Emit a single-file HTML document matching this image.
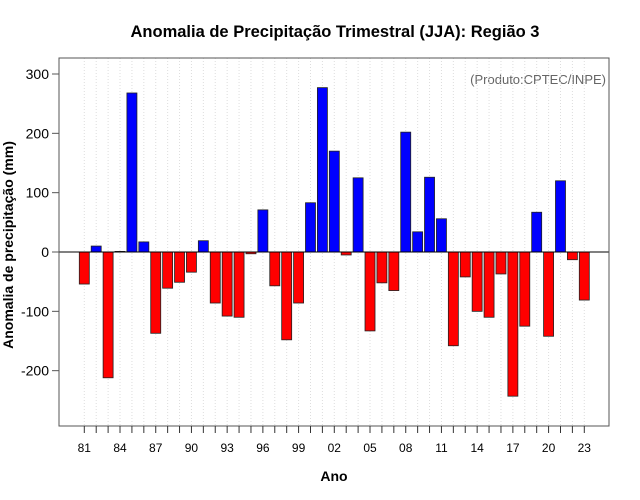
<!DOCTYPE html>
<html><head><meta charset="utf-8"><style>
body{margin:0;background:#fff;}
svg{display:block;font-family:"Liberation Sans",sans-serif;}
</style></head><body>
<svg id="chart" width="640" height="500" viewBox="0 0 640 500">
<rect x="0" y="0" width="640" height="500" fill="#fff"/>
<text x="335" y="37" text-anchor="middle" font-size="16.5" font-weight="bold">Anomalia de Precipitação Trimestral (JJA): Região 3</text>
<text x="606" y="84" text-anchor="end" font-size="13" fill="#666">(Produto:CPTEC/INPE)</text>
<text x="334" y="481" text-anchor="middle" font-size="14" font-weight="bold">Ano</text>
<text transform="translate(13,245) rotate(-90)" text-anchor="middle" font-size="14" font-weight="bold">Anomalia de precipitação (mm)</text>
<g id="grid"></g>
<g id="bars"></g>
<g id="axes"></g>
</svg>
<script>
const years = [81,82,83,84,85,86,87,88,89,90,91,92,93,94,95,96,97,98,99,0,1,2,3,4,5,6,7,8,9,10,11,12,13,14,15,16,17,18,19,20,21,22,23];
const anomalies = [-54,10,-212,1,268,17,-137,-61,-51,-34,19,-86,-108,-110,-3,71,-57,-148,-86,83,277,170,-5,125,-133,-52,-65,202,34,126,56,-158,-42,-100,-110,-37,-243,-125,67,-142,120,-13,-81];
const yTicks = [-200,-100,0,100,200,300];
const xLabelEvery = 3;

const NS='http://www.w3.org/2000/svg';
const L=59,R=609,T=58,B=426;
const x0=84.3, dx=(584.3-84.3)/(years.length-1);
function xs(i){return x0+i*dx;}
function ys(v){return 252 - v*(178/300);}
function mk(tag,attrs,parent){const e=document.createElementNS(NS,tag);for(const k in attrs)e.setAttribute(k,attrs[k]);parent.appendChild(e);return e;}
const grid=document.getElementById('grid'),bars=document.getElementById('bars'),axes=document.getElementById('axes');

years.forEach((y,i)=>{
  const g=mk('line',{x1:xs(i),x2:xs(i),y1:T,y2:B,stroke:'#ddd','stroke-dasharray':'1,2'},grid);
  
  
});
anomalies.forEach((v,i)=>{
  const y1=ys(Math.max(v,0)),y2=ys(Math.min(v,0));
  const r=mk('rect',{x:xs(i)-5,y:y1,width:10,height:Math.max(y2-y1,0.5),fill:v>=0?'#0000ff':'#ff0000',stroke:'#222','stroke-width':0.8},bars);
  
  
});
const zl=mk('line',{x1:L,x2:R,y1:ys(0),y2:ys(0),stroke:'#000','stroke-width':1},axes);


const box=mk('rect',{x:L,y:T,width:R-L,height:B-T,fill:'none',stroke:'#555','stroke-width':1},axes);


yTicks.forEach(t=>{
  const tk=mk('line',{x1:L-7,x2:L,y1:ys(t),y2:ys(t),stroke:'#555'},axes);
  
  
  const tx=mk('text',{x:L-10,y:ys(t)+5,'text-anchor':'end','font-size':14},axes);
  tx.textContent=t;
  
  
});
years.forEach((y,i)=>{
  const tk=mk('line',{x1:xs(i),x2:xs(i),y1:B,y2:B+7,stroke:'#333'},axes);
  
  
  if(i%xLabelEvery===0){
    const tx=mk('text',{x:xs(i),y:452,'text-anchor':'middle','font-size':12},axes);
    tx.textContent=String(y).padStart(2,'0');
    
    
  }
});
</script>
</body></html>
